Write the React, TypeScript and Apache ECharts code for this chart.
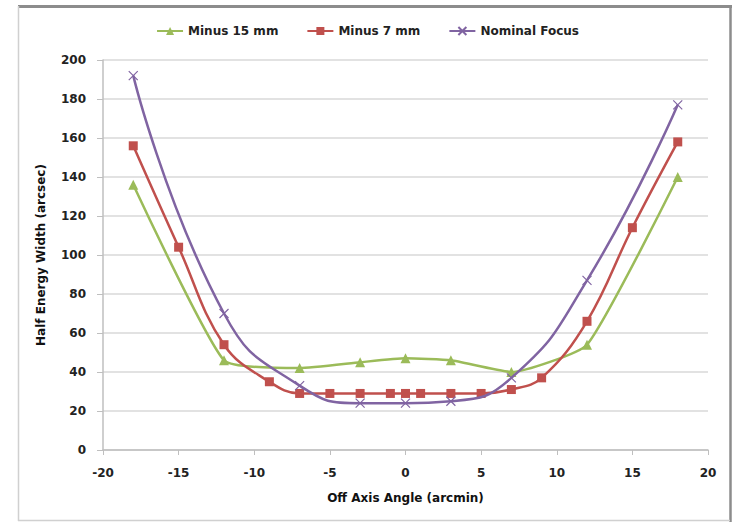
import React, { useEffect, useRef } from "react";
import * as echarts from "echarts";

const xGreen = [-18, -12, -7, -3, 0, 3, 7, 12, 18];
const yGreen = [136, 46, 42, 45, 47, 46, 40, 54, 140];

const xRed = [-18, -15, -12, -9, -7, -5, -3, -1, 0, 1, 3, 5, 7, 9, 12, 15, 18];
const yRed = [156, 104, 54, 35, 29, 29, 29, 29, 29, 29, 29, 29, 31, 37, 66, 114, 158];

const xPurple = [-18, -12, -7, -3, 0, 3, 7, 12, 18];
const yPurple = [192, 70, 33, 24, 24, 25, 37, 87, 177];

const seriesNames = ["Minus 15 mm", "Minus 7 mm", "Nominal Focus"];
const xTitle = "Off Axis Angle (arcmin)";
const yTitle = "Half Energy Width (arcsec)";

const zip = (xs: number[], ys: number[]) => xs.map((x, i) => [x, ys[i]]);

export default function App() {
  const ref = useRef<HTMLDivElement>(null);
  useEffect(() => {
    if (!ref.current) return;
    const chart = echarts.init(ref.current, null, { renderer: "svg" });
    const font = "DejaVu Sans";
    chart.setOption({
      animation: false,
      backgroundColor: "#ffffff",
      textStyle: { fontFamily: font },
      legend: {
        top: 20,
        left: "center",
        itemWidth: 26,
        itemHeight: 10,
        itemGap: 28,
        textStyle: { fontFamily: font, fontSize: 12, fontWeight: "bold", color: "#222" },
        data: seriesNames,
      },
      grid: { left: 103, right: 27, top: 60, bottom: 72, containLabel: false },
      xAxis: {
        type: "value",
        min: -20,
        max: 20,
        interval: 5,
        name: xTitle,
        nameLocation: "middle",
        nameGap: 42,
        nameTextStyle: { fontFamily: font, fontSize: 12, fontWeight: "bold", color: "#111" },
        axisLine: { onZero: false, lineStyle: { color: "#bfbfbf", width: 1.5 } },
        axisTick: { show: true, length: 5, lineStyle: { color: "#bfbfbf" } },
        axisLabel: { fontFamily: font, fontSize: 12, fontWeight: "bold", color: "#222", margin: 17 },
        splitLine: { show: false },
      },
      yAxis: {
        type: "value",
        min: 0,
        max: 200,
        interval: 20,
        name: yTitle,
        nameLocation: "middle",
        nameGap: 56,
        nameTextStyle: { fontFamily: font, fontSize: 12, fontWeight: "bold", color: "#111" },
        axisLine: { show: true, onZero: false, lineStyle: { color: "#bfbfbf", width: 1.5 } },
        axisTick: { show: true, length: 6, lineStyle: { color: "#bfbfbf" } },
        axisLabel: { fontFamily: font, fontSize: 12, fontWeight: "bold", color: "#222", margin: 17 },
        splitLine: { show: true, lineStyle: { color: "#d9d9d9", width: 1.5 } },
      },
      graphic: [
        { type: "line", shape: { x1: 18, y1: 6.5, x2: 732, y2: 6.5 }, style: { stroke: "#8c8c8c", lineWidth: 3 } },
        { type: "line", shape: { x1: 730.5, y1: 6, x2: 730.5, y2: 522 }, style: { stroke: "#8c8c8c", lineWidth: 2.5 } },
        { type: "line", shape: { x1: 18.5, y1: 6, x2: 18.5, y2: 521 }, style: { stroke: "#d0d0d0", lineWidth: 1.5 } },
        { type: "line", shape: { x1: 18, y1: 520.5, x2: 730, y2: 520.5 }, style: { stroke: "#d0d0d0", lineWidth: 1.5 } },
      ],
      series: [
        {
          name: seriesNames[0],
          type: "line",
          data: zip(xGreen, yGreen),
          smooth: 0.15,
          symbol: "triangle",
          symbolSize: 10,
          z: 3,
          lineStyle: { color: "#9bbb59", width: 2.5 },
          itemStyle: { color: "#9bbb59" },
        },
        {
          name: seriesNames[1],
          type: "line",
          data: zip(xRed, yRed),
          smooth: 0.4,
          symbol: "rect",
          symbolSize: 9,
          z: 4,
          lineStyle: { color: "#c0504d", width: 2.5 },
          itemStyle: { color: "#c0504d" },
        },
        {
          name: seriesNames[2],
          type: "line",
          data: zip(xPurple, yPurple),
          smooth: 0.5,
          symbol: "path://M0,0L10,10M10,0L0,10",
          symbolSize: 9,
          z: 5,
          lineStyle: { color: "#8064a2", width: 2.5 },
          itemStyle: { color: "rgba(0,0,0,0)", borderColor: "#8064a2", borderWidth: 1.2 },
        },
      ],
    });
    return () => chart.dispose();
  }, []);
  return (
    <div
      ref={ref}
      style={{ position: "fixed", left: 0, top: 0, width: 735, height: 522 }}
    />
  );
}
